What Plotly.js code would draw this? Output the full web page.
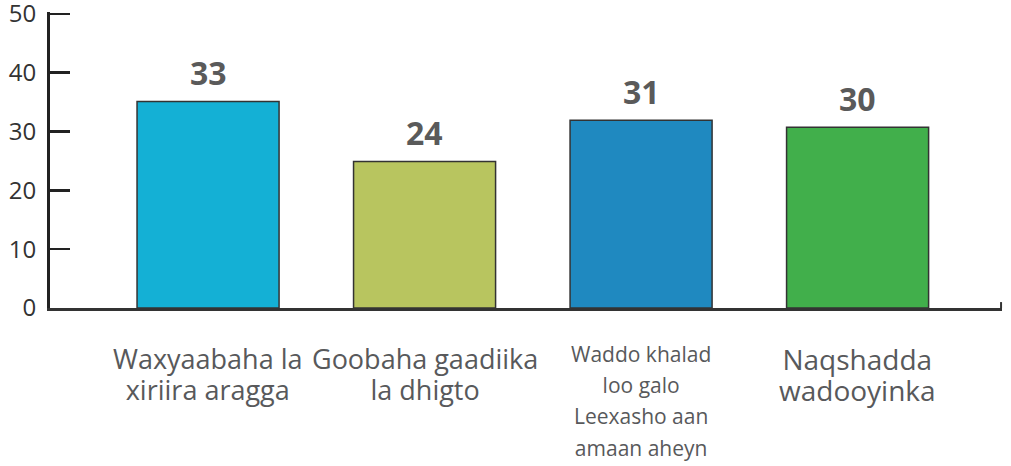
<!DOCTYPE html>
<html>
<head>
<meta charset="utf-8">
<script src="https://cdn.plot.ly/plotly-3.0.1.min.js"></script>
<style>html,body{margin:0;padding:0;background:#fff}#chart{width:1011px;height:466px}</style>
</head>
<body>
<div id="chart"></div>
<script>
// Data
const categories = ["Waxyaabaha la xiriira aragga", "Goobaha gaadiika la dhigto", "Waddo khalad loo galo Leexasho aan amaan aheyn", "Naqshadda wadooyinka"];
const labelLines = [["Waxyaabaha la", "xiriira aragga"], ["Goobaha gaadiika", "la dhigto"], ["Waddo khalad", "loo galo", "Leexasho aan", "amaan aheyn"], ["Naqshadda", "wadooyinka"]];
const barHeights = [35.1, 24.9, 31.9, 30.7];
const valueLabels = ["33", "24", "31", "30"];
const barColors = ["#14b0d5", "#b8c55f", "#1f89c0", "#41af4b"];
const labelSizes = [27, 27, 21, 28];
const yTickVals = [0, 10, 20, 30, 40, 50];

const FONT = "'Open Sans', 'Noto Sans', sans-serif";

const trace = {
  type: "bar",
  x: categories,
  y: barHeights,
  marker: { color: barColors, line: { color: "#333333", width: 1.5 } },
  width: 0.656,
  hoverinfo: "none"
};

const annotations = [];
categories.forEach((c, i) => {
  annotations.push({
    x: c, y: barHeights[i], xref: "x", yref: "y",
    text: "<b>" + valueLabels[i] + "</b>",
    showarrow: false, yanchor: "bottom", yshift: 5,
    font: { family: FONT, size: 32, color: "#5a5a5a" }
  });
  const sz = labelSizes[i];
  const txt = labelLines[i].map(l => '<span style="font-size:' + sz + 'px">' + l + '</span>').join("<br>");
  annotations.push({
    x: c, y: 0, xref: "x", yref: "paper",
    text: txt, showarrow: false, yanchor: "top", yshift: -30,
    align: "center",
    font: { family: FONT, size: 24, color: "#58595b" }
  });
});

const layout = {
  width: 1011, height: 466,
  margin: { l: 50, r: 9, t: 12, b: 158 },
  paper_bgcolor: "#ffffff", plot_bgcolor: "#ffffff",
  showlegend: false,
  font: { family: FONT, color: "#333" },
  xaxis: {
    type: "category",
    range: [-0.73, 3.667],
    showticklabels: false,
    ticks: "",
    showgrid: false, zeroline: false,
    showline: true, linecolor: "#333333", linewidth: 2.5,
    fixedrange: true
  },
  yaxis: {
    range: [0, 50.3],
    tickvals: yTickVals,
    ticks: "inside", ticklen: 20, tickwidth: 2.5, tickcolor: "#222222",
    ticklabelstandoff: 6,
    ticklabeloverflow: "allow",
    showgrid: false, zeroline: false,
    showline: true, linecolor: "#222222", linewidth: 3,
    tickfont: { family: FONT, size: 24, color: "#333333" },
    fixedrange: true
  },
  shapes: [{
    type: "line", xref: "paper", yref: "paper",
    x0: 0.999, x1: 0.999, y0: 0, y1: 0.02,
    line: { color: "#333333", width: 2 }
  }],
  annotations: annotations
};

Plotly.newPlot("chart", [trace], layout, { displayModeBar: false, staticPlot: true });
</script>
</body>
</html>
